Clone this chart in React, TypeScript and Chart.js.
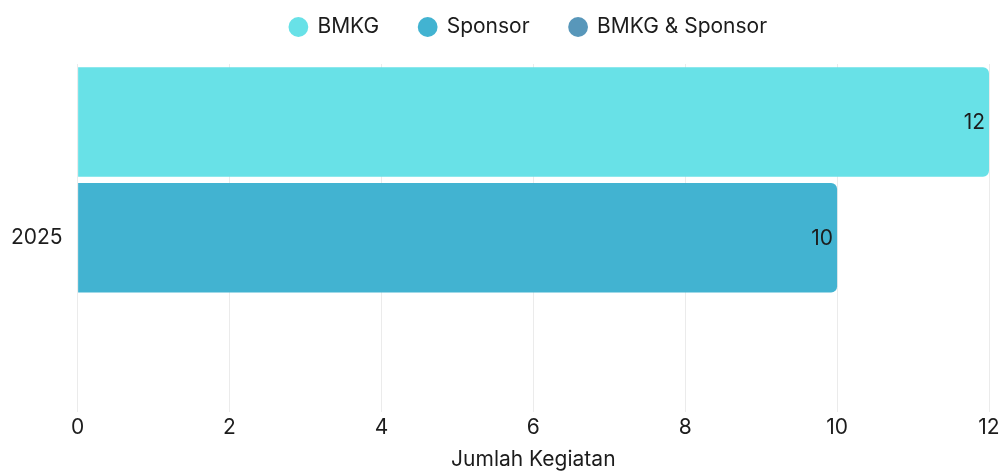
import React, { useEffect, useRef } from "react";
import { Chart, registerables } from "chart.js";

Chart.register(...registerables);

const categories = ["2025"];
const seriesNames = ["BMKG", "Sponsor", "BMKG & Sponsor"];
const bmkgValues = [12];
const sponsorValues = [10];
const bothValues = [0];
const seriesColors = ["#68E1E7", "#42B3D1", "#5897BA"];
const xTickValues = [0, 2, 4, 6, 8, 10, 12];
const xAxisTitle = "Jumlah Kegiatan";

const FONT = "Inter, 'Noto Sans', sans-serif";
const FS = 21;

const valueLabelPlugin = {
  id: "valueLabels",
  afterDatasetsDraw(chart: any) {
    const ctx = chart.ctx;
    ctx.save();
    ctx.font = `400 ${FS}px ${FONT}`;
    ctx.fillStyle = "#1c1c1c";
    ctx.textAlign = "right";
    ctx.textBaseline = "middle";
    chart.data.datasets.forEach((ds: any, di: number) => {
      const meta = chart.getDatasetMeta(di);
      if (meta.hidden) return;
      meta.data.forEach((el: any, i: number) => {
        const v = ds.data[i];
        if (!v) return;
        ctx.fillText(String(v), el.x - 4, el.y + 1);
      });
    });
    ctx.restore();
  },
};

const LEGEND_HEIGHT = 64;
const LEGEND_CENTER_Y = 27;
const LEGEND_SHIFT_X = 36;
const LEGEND_PAD = 40;

const legendTweakPlugin = {
  id: "legendTweak",
  afterInit(chart: any) {
    const lg = chart.legend;
    if (!lg || lg.__wrapped) return;
    const orig = lg.fit;
    lg.fit = function (this: any) {
      orig.call(this);
      this.height = LEGEND_HEIGHT;
    };
    lg.__wrapped = true;
  },
  afterLayout(chart: any) {
    const lg = chart.legend;
    if (!lg) return;
    lg.top = LEGEND_CENTER_Y - LEGEND_PAD - FS / 2;
    lg.left += LEGEND_SHIFT_X;
    lg.right += LEGEND_SHIFT_X;
  },
};

export default function App() {
  const ref = useRef<HTMLCanvasElement | null>(null);
  useEffect(() => {
    if (!ref.current) return;
    const chart = new Chart(ref.current, {
      type: "bar",
      data: {
        labels: categories,
        datasets: [
          { label: seriesNames[0], data: bmkgValues, backgroundColor: seriesColors[0] },
          { label: seriesNames[1], data: sponsorValues, backgroundColor: seriesColors[1] },
          { label: seriesNames[2], data: bothValues, backgroundColor: seriesColors[2] },
        ].map((d) => ({
          ...d,
          borderRadius: 6,
          borderSkipped: "start",
          categoryPercentage: 1,
          barPercentage: 0.945,
        })) as any,
      },
      options: {
        indexAxis: "y",
        animation: false,
        responsive: true,
        maintainAspectRatio: false,
        layout: { padding: { left: 0, right: 15, top: 0, bottom: 0 } },
        plugins: {
          legend: {
            position: "top",
            labels: {
              usePointStyle: true,
              pointStyle: "circle",
              boxWidth: 17,
              boxHeight: 14,
              font: { family: FONT, size: FS },
              color: "#1c1c1c",
              padding: LEGEND_PAD,
            },
          },
          tooltip: { enabled: false },
        },
        scales: {
          x: {
            min: 0,
            max: 12,
            afterBuildTicks: (axis: any) => {
              axis.ticks = xTickValues.map((v) => ({ value: v }));
            },
            grid: { color: "#ebebeb", drawTicks: false },
            border: { display: false },
            ticks: { font: { family: FONT, size: FS }, color: "#1c1c1c", padding: 3 },
            title: {
              display: true,
              text: xAxisTitle,
              font: { family: FONT, size: FS },
              color: "#1c1c1c",
              padding: { top: 4, bottom: 0 },
            },
          },
          y: {
            grid: { display: false, drawTicks: false },
            border: { display: false },
            ticks: { font: { family: FONT, size: FS }, color: "#1c1c1c", padding: 15 },
          },
        },
      },
      plugins: [valueLabelPlugin, legendTweakPlugin],
    });
    return () => chart.destroy();
  }, []);
  return (
    <div style={{ position: "absolute", left: -4, top: 0, width: 1008, height: 472 }}>
      <canvas ref={ref} />
    </div>
  );
}
